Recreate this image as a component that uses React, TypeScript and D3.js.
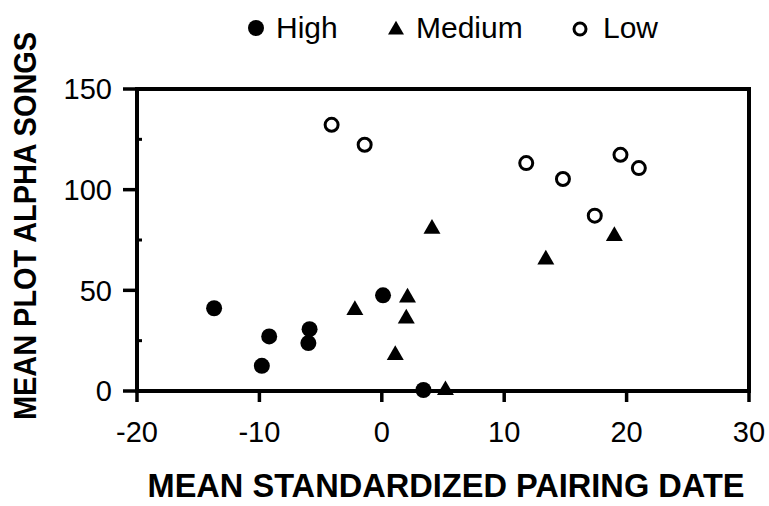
import React, { useEffect, useRef } from 'react';
import * as d3 from 'd3';

// [pairing date, alpha songs]
const highPoints: [number, number][] = [
  [-13.7, 41.1], [-9.2, 27.1], [-9.8, 12.5], [-5.9, 30.7],
  [-6.0, 23.8], [0.1, 47.5], [3.4, 0.5],
];
const mediumPoints: [number, number][] = [
  [-2.2, 40.2], [2.1, 46.4], [2.0, 36.0], [1.1, 17.8],
  [5.2, 0.4], [4.1, 80.5], [13.4, 65.3], [19.0, 76.9],
];
const lowPoints: [number, number][] = [
  [-4.1, 132.2], [-1.4, 122.3], [11.8, 113.2], [14.8, 105.3],
  [19.5, 117.3], [21.0, 110.7], [17.4, 87.1],
];

const xTicks = [-20, -10, 0, 10, 20, 30];
const yTicks = [0, 50, 100, 150];
const yMinorTicks = [25, 75, 125];
const legendLabels = ['High', 'Medium', 'Low'];

const W = 769;
const H = 506;
const FONT = '"Liberation Sans", Arial, Helvetica, sans-serif';

const App = () => {
  const svgRef = useRef<SVGSVGElement | null>(null);

  useEffect(() => {
    const svgElement = svgRef.current;
    if (!svgElement) return;
    const svg = d3.select(svgElement);
    svg.selectAll('*').remove();

    const left = 137, right = 749, top = 89, bottom = 391;

    const x = d3.scaleLinear().domain([-20, 30]).range([left, right]);
    const y = d3.scaleLinear().domain([0, 150]).range([bottom, top]);

    const ink = '#000';

    // frame (left axis, bottom axis, top + right border)
    svg.append('rect')
      .attr('x', left)
      .attr('y', top)
      .attr('width', right - left)
      .attr('height', bottom - top)
      .attr('fill', 'none')
      .attr('stroke', ink)
      .attr('stroke-width', 4);

    // y axis major ticks, outward
    svg.selectAll('.ytick')
      .data(yTicks)
      .enter()
      .append('line')
      .attr('x1', left - 14)
      .attr('x2', left)
      .attr('y1', d => y(d))
      .attr('y2', d => y(d))
      .attr('stroke', ink)
      .attr('stroke-width', 3.5);

    // y axis minor ticks, inward
    svg.selectAll('.yminor')
      .data(yMinorTicks)
      .enter()
      .append('line')
      .attr('x1', left)
      .attr('x2', left + 5)
      .attr('y1', d => y(d))
      .attr('y2', d => y(d))
      .attr('stroke', ink)
      .attr('stroke-width', 3);

    svg.selectAll('.ylabel')
      .data(yTicks)
      .enter()
      .append('text')
      .attr('x', left - 25)
      .attr('y', d => y(d))
      .attr('dy', '0.36em')
      .attr('text-anchor', 'end')
      .attr('font-family', FONT)
      .attr('font-size', 29)
      .text(d => d);

    // x axis ticks, downward
    svg.selectAll('.xtick')
      .data(xTicks)
      .enter()
      .append('line')
      .attr('x1', d => x(d))
      .attr('x2', d => x(d))
      .attr('y1', bottom)
      .attr('y2', bottom + 11)
      .attr('stroke', ink)
      .attr('stroke-width', 3.5);

    svg.selectAll('.xlabel')
      .data(xTicks)
      .enter()
      .append('text')
      .attr('x', d => x(d))
      .attr('y', bottom + 51)
      .attr('text-anchor', 'middle')
      .attr('font-family', FONT)
      .attr('font-size', 29)
      .text(d => d);

    // axis titles
    svg.append('text')
      .attr('x', 446)
      .attr('y', 497)
      .attr('text-anchor', 'middle')
      .attr('font-family', FONT)
      .attr('font-weight', 'bold')
      .attr('font-size', 33)
      .attr('textLength', 597)
      .attr('lengthAdjust', 'spacingAndGlyphs')
      .text('MEAN STANDARDIZED PAIRING DATE');

    svg.append('text')
      .attr('transform', 'translate(36,226) rotate(-90)')
      .attr('text-anchor', 'middle')
      .attr('font-family', FONT)
      .attr('font-weight', 'bold')
      .attr('font-size', 32)
      .attr('textLength', 388)
      .attr('lengthAdjust', 'spacingAndGlyphs')
      .text('MEAN PLOT ALPHA SONGS');

    const triangle = d3.symbol().type(d3.symbolTriangle).size(125);

    // points
    svg.selectAll('.high')
      .data(highPoints)
      .enter()
      .append('circle')
      .attr('cx', d => x(d[0]))
      .attr('cy', d => y(d[1]))
      .attr('r', 8)
      .attr('fill', ink);

    svg.selectAll('.medium')
      .data(mediumPoints)
      .enter()
      .append('path')
      .attr('d', triangle)
      .attr('transform', d => `translate(${x(d[0])},${y(d[1])})`)
      .attr('fill', ink);

    svg.selectAll('.low')
      .data(lowPoints)
      .enter()
      .append('circle')
      .attr('cx', d => x(d[0]))
      .attr('cy', d => y(d[1]))
      .attr('r', 6.5)
      .attr('fill', '#fff')
      .attr('stroke', ink)
      .attr('stroke-width', 3);

    // legend
    const legendX = [256, 396, 580];
    const labelX = [276, 416, 603];
    const legend = svg.append('g');
    legend.append('circle')
      .attr('cx', legendX[0]).attr('cy', 28).attr('r', 8).attr('fill', ink);
    legend.append('path')
      .attr('d', d3.symbol().type(d3.symbolTriangle).size(110)())
      .attr('transform', `translate(${legendX[1]},30)`)
      .attr('fill', ink);
    legend.append('circle')
      .attr('cx', legendX[2]).attr('cy', 29).attr('r', 6)
      .attr('fill', '#fff').attr('stroke', ink).attr('stroke-width', 3);

    legend.selectAll('.legend-label')
      .data(legendLabels)
      .enter()
      .append('text')
      .attr('x', (d, i) => labelX[i])
      .attr('y', 38)
      .attr('font-family', FONT)
      .attr('font-size', 30)
      .text(d => d);
  }, []);

  return (
    <svg
      ref={svgRef}
      width={W}
      height={H}
      style={{ position: 'absolute', left: 0, top: 0, background: '#fff' }}
    />
  );
};

export default App;
